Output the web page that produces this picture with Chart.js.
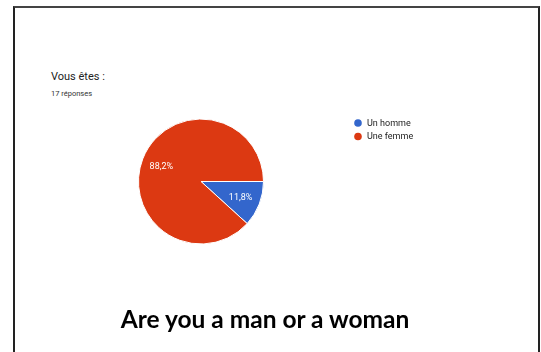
<!DOCTYPE html>
<html>
<head>
<meta charset="utf-8">
<script src="https://cdn.jsdelivr.net/npm/chart.js@4"></script>
<style>
  html, body { margin: 0; padding: 0; background: #fff; }
  body { width: 541px; height: 352px; position: relative; overflow: hidden; font-family: Roboto, Arial, sans-serif; }
  #frame { position: absolute; left: 13px; top: 6px; width: 523px; height: 360px; border: 2px solid #222; border-top-color: #444; }
  #q { position: absolute; left: 51px; top: 70px; font-size: 11px; color: #222; }
  #n { position: absolute; left: 51px; top: 89px; font-size: 7.5px; color: #333; }
  #caption { position: absolute; left: 0; width: 530px; top: 304px; text-align: center; font-family: Lato, "Open Sans", sans-serif; font-weight: bold; font-size: 24.5px; color: #000; }
  #wrap { position: absolute; left: 0; top: 0; width: 541px; height: 352px; }
</style>
</head>
<body>
<div id="frame"></div>
<div id="q">Vous êtes :</div>
<div id="n">17 réponses</div>
<div id="wrap"><canvas id="pie"></canvas></div>
<div id="caption">Are you a man or a woman</div>
<script>
// categories and counts (17 answers)
var categories = ['Un homme', 'Une femme'];
var counts = [2, 15];
var sliceColors = ['#3366cc', '#dc3912'];

// percent labels inside the slices
var sliceLabels = {
    id: 'sliceLabels',
    afterDatasetsDraw: function(chart) {
        var ctx = chart.ctx;
        var meta = chart.getDatasetMeta(0);
        var total = counts.reduce(function(a, b) { return a + b; }, 0);
        ctx.save();
        ctx.fillStyle = '#fff';
        ctx.font = '9px Roboto, Arial, sans-serif';
        ctx.textAlign = 'center';
        ctx.textBaseline = 'middle';
        meta.data.forEach(function(arc, i) {
            var mid = (arc.startAngle + arc.endAngle) / 2;
            var r = arc.outerRadius * 0.68;
            var txt = (counts[i] / total * 100).toFixed(1).replace('.', ',') + '%';
            ctx.fillText(txt, arc.x + Math.cos(mid) * r, arc.y + Math.sin(mid) * r + 1);
        });
        ctx.restore();
    }
};

// legend on the right, like the Google Forms one
var sideLegend = {
    id: 'sideLegend',
    afterDraw: function(chart) {
        var ctx = chart.ctx;
        ctx.save();
        ctx.font = '9px Roboto, Arial, sans-serif';
        ctx.textBaseline = 'middle';
        categories.forEach(function(c, i) {
            var y = 123 + i * 13.5;
            ctx.fillStyle = sliceColors[i];
            ctx.beginPath();
            ctx.arc(358, y, 3.8, 0, Math.PI * 2);
            ctx.fill();
            ctx.fillStyle = '#222';
            ctx.fillText(c, 367, y + 0.5);
        });
        ctx.restore();
    }
};

var ctx = document.getElementById('pie').getContext('2d');
var chart = new Chart(ctx, {
    type: 'pie',
    data: {
        labels: categories,
        datasets: [{
            data: counts,
            backgroundColor: sliceColors,
            borderColor: '#fff',
            borderWidth: 1
        }]
    },
    options: {
        responsive: true,
        maintainAspectRatio: false,
        animation: false,
        rotation: 90,
        layout: { padding: { left: 138, top: 118, right: 277, bottom: 107 } },
        plugins: {
            legend: { display: false },
            tooltip: { enabled: false }
        }
    },
    plugins: [sliceLabels, sideLegend]
});
</script>
</body>
</html>
